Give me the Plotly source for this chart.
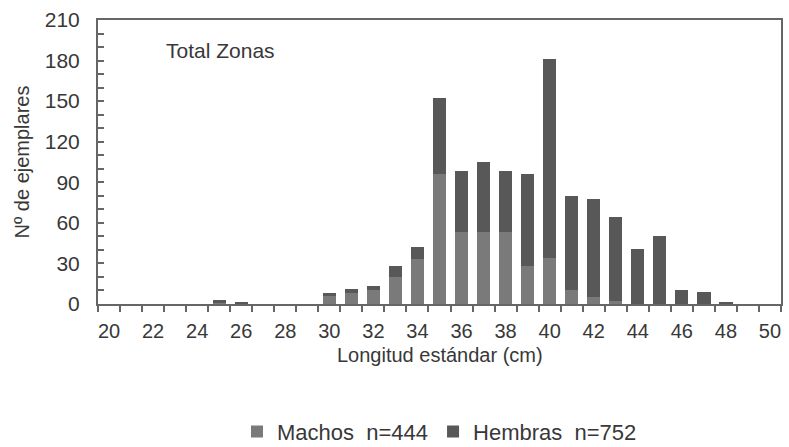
import plotly.graph_objects as go

lengths = list(range(20, 51))
machos = [0, 0, 0, 0, 0, 1, 0, 0, 0, 0,
          6, 8, 10, 20, 33, 96, 53, 53, 53, 28,
          34, 10, 5, 2, 0, 0, 0, 0, 0, 0, 0]
hembras = [0, 0, 0, 0, 0, 2, 1, 0, 0, 0,
           2, 3, 3, 8, 9, 56, 45, 52, 45, 68,
           147, 70, 73, 62, 41, 50, 10, 9, 1, 0, 0]
xtick_labels = list(range(20, 51, 2))
ytick_vals = list(range(0, 211, 30))

font_family = "Liberation Sans, Arial, sans-serif"
text_color = "#383838"
axis_color = "#666666"

fig = go.Figure()
fig.add_trace(go.Bar(x=lengths, y=machos, name="Machos\u00a0\u00a0n=444",
                     marker=dict(color="#7a7a7a", line=dict(width=0)), width=0.6))
fig.add_trace(go.Bar(x=lengths, y=hembras, name="Hembras\u00a0\u00a0n=752",
                     marker=dict(color="#585858", line=dict(width=0)), width=0.6))

fig.update_layout(
    barmode="stack",
    width=789, height=447,
    margin=dict(l=98, r=8, t=20, b=143, autoexpand=False),
    plot_bgcolor="white", paper_bgcolor="white",
    font=dict(family=font_family, color=text_color, size=20),
    showlegend=True,
    legend=dict(orientation="h", x=0.5, xanchor="center", y=-0.45, yanchor="middle",
                font=dict(size=22), itemwidth=30, traceorder="normal"),
    annotations=[
        dict(text="Total Zonas", x=0.18, y=0.894, xref="paper", yref="paper",
             xanchor="center", yanchor="middle",
             showarrow=False, font=dict(size=21, color=text_color)),
        dict(text="Longitud estándar (cm)", x=0.5, y=-0.18, xref="paper", yref="paper",
             xanchor="center", yanchor="middle",
             showarrow=False, font=dict(size=20, color=text_color)),
    ],
)
fig.update_xaxes(
    range=[19.5, 50.5], automargin=False,
    tickmode="array", tickvals=xtick_labels, ticktext=[str(v) for v in xtick_labels],
    ticks="", showgrid=False, zeroline=False,
    showline=True, mirror=True, linecolor=axis_color, linewidth=2,
    tickfont=dict(size=20), ticklabelstandoff=8,
    minor=dict(tickmode="linear", tick0=19.5, dtick=1, ticks="outside", ticklen=6,
               tickcolor=axis_color, tickwidth=2, showgrid=False),
)
fig.update_yaxes(
    range=[0, 210], automargin=False,
    tickmode="array", tickvals=ytick_vals,
    ticks="inside", ticklen=6, tickcolor=axis_color, tickwidth=2,
    showgrid=False, zeroline=False,
    showline=True, mirror=True, linecolor=axis_color, linewidth=2,
    tickfont=dict(size=21), ticklabelstandoff=12,
    minor=dict(tickmode="linear", tick0=0, dtick=10, ticks="inside", ticklen=6,
               tickcolor=axis_color, tickwidth=2, showgrid=False),
    title=dict(text="Nº de ejemplares", font=dict(size=20), standoff=10),
)

fig.write_html("out.html", config={"displayModeBar": False},
               post_script="document.body.style.margin='0';document.body.style.overflow='hidden';")
